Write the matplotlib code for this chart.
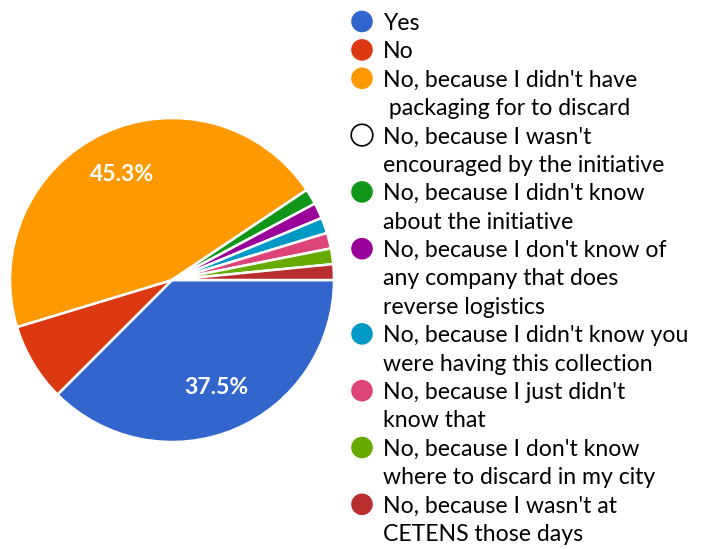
import matplotlib
matplotlib.use("Agg")
import matplotlib.pyplot as plt
from matplotlib.patches import Circle

labels = [
    "Yes",
    "No",
    "No, because I didn't have\n packaging for to discard",
    "No, because I wasn't\nencouraged by the initiative",
    "No, because I didn't know\nabout the initiative",
    "No, because I don't know of\nany company that does\nreverse logistics",
    "No, because I didn't know you\nwere having this collection",
    "No, because I just didn't\nknow that",
    "No, because I don't know\nwhere to discard in my city",
    "No, because I wasn't at\nCETENS those days",
]
counts = [24, 5, 29, 0, 1, 1, 1, 1, 1, 1]
colors = ["#3366cc", "#dc3912", "#ff9900", "#ffffff", "#109618",
          "#990099", "#0099c6", "#dd4477", "#66aa00", "#b82e2e"]

W, H = 707, 549
fig = plt.figure(figsize=(W / 100, H / 100), dpi=100)
ax = fig.add_axes([0, 0, 1, 1])
ax.set_xlim(0, W)
ax.set_ylim(0, H)
ax.set_aspect("equal")
ax.axis("off")

cx, cy, r = 172, H - 280, 162

def fmt(p):
    return f"{p:.1f}%" if p > 10 else ""

wedges, texts, autotexts = ax.pie(
    counts, colors=colors, startangle=0, counterclock=False,
    center=(cx, cy), radius=r, autopct=fmt, pctdistance=0.72,
    wedgeprops=dict(edgecolor="white", linewidth=1.8),
    textprops=dict(color="white", fontsize=16.5, fontweight="bold", family="Lato"),
)
ax.set_xlim(0, W)
ax.set_ylim(0, H)

font = "Lato"
fs = 16.6
line_h = 28.4
y_line = 21.5
for lab, col in zip(labels, colors):
    lines = lab.split("\n")
    yc = H - y_line
    ax.add_patch(Circle((362, yc), 10.8, facecolor=col,
                        edgecolor="black" if col == "#ffffff" else col,
                        linewidth=1.2 if col == "#ffffff" else 0))
    for i, ln in enumerate(lines):
        ax.text(383, H - (y_line + i * line_h) - 8.3, ln, fontsize=fs,
                family=font, color="#000000", va="baseline", ha="left")
    y_line += line_h * len(lines)

fig.savefig("out.png", dpi=100)
